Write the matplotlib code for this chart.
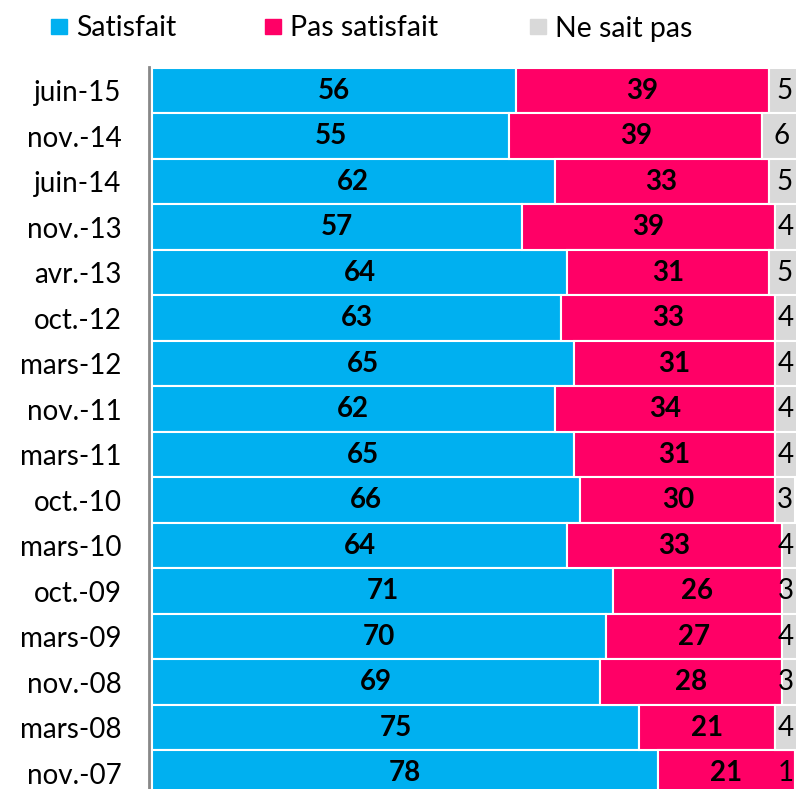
import numpy as np
import matplotlib.pyplot as plt
from matplotlib.patches import Rectangle

dates = ['juin-15', 'nov.-14', 'juin-14', 'nov.-13', 'avr.-13', 'oct.-12', 'mars-12', 'nov.-11',
         'mars-11', 'oct.-10', 'mars-10', 'oct.-09', 'mars-09', 'nov.-08', 'mars-08', 'nov.-07']
satisfait = [56, 55, 62, 57, 64, 63, 65, 62, 65, 66, 64, 71, 70, 69, 75, 78]
pas_satisfait = [39, 39, 33, 39, 31, 33, 31, 34, 31, 30, 33, 26, 27, 28, 21, 21]
ne_sait_pas = [5, 6, 5, 4, 5, 4, 4, 4, 4, 3, 4, 3, 4, 3, 4, 1]
series_names = ['Satisfait', 'Pas satisfait', 'Ne sait pas']

c_sat = '#00B0F0'
c_pas = '#FF0066'
c_nsp = '#D9D9D9'
font = 'Lato'

W, H = 796, 789
fig = plt.figure(figsize=(W / 100, H / 100), dpi=100)
ax = fig.add_axes([152 / W, 0.0, 1 - 152 / W, 1 - 67 / H])

# spine position first: it resets the ticks
for s in ['top', 'right', 'bottom']:
    ax.spines[s].set_visible(False)
ax.spines['left'].set_color('#888888')
ax.spines['left'].set_linewidth(2)
ax.spines['left'].set_position(('outward', 2))

y = np.arange(len(dates))
sat = np.array(satisfait)
pas = np.array(pas_satisfait)
nsp = np.array(ne_sait_pas)
xmax = 99.2

ax.barh(y, sat, height=1.0, color=c_sat, edgecolor='white', linewidth=1.5)
ax.barh(y, pas, left=sat, height=1.0, color=c_pas, edgecolor='white', linewidth=1.5)
ax.barh(y, nsp, left=sat + pas, height=1.0, color=c_nsp, edgecolor='white', linewidth=1.5)

for i in range(len(dates)):
    ax.text(sat[i] / 2, y[i], str(sat[i]), ha='center', va='center',
            fontsize=20, fontweight='bold', family=font)
    ax.text(sat[i] + pas[i] / 2, y[i], str(pas[i]), ha='center', va='center',
            fontsize=20, fontweight='bold', family=font)
    xc = min(sat[i] + pas[i] + nsp[i] / 2, xmax - 1.6)
    ax.text(xc, y[i], str(nsp[i]), ha='center', va='center', fontsize=20, family=font)

ax.set_xlim(0, xmax)
ax.set_ylim(15.35, -0.52)
ax.set_yticks(y)
ax.set_yticklabels(dates, fontsize=20, fontfamily=font)
ax.tick_params(axis='y', length=0, pad=20)
ax.set_xticks([])

# legend drawn by hand to follow the original spacing
leg_sq = [51, 265, 530]
leg_tx = [76, 290, 555]
for xs, xt, name, col in zip(leg_sq, leg_tx, series_names, [c_sat, c_pas, c_nsp]):
    fig.patches.append(Rectangle((xs / W, 1 - 34 / H), 16 / W, 15 / H, color=col,
                                 transform=fig.transFigure))
    fig.text(xt / W, 1 - 28.5 / H, name, ha='left', va='center', fontsize=20.5, family=font)

fig.savefig('out.png', dpi=100)
